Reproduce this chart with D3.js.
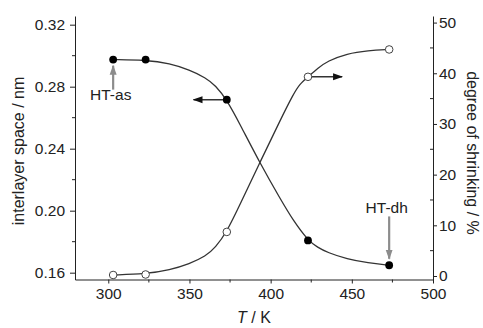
<!DOCTYPE html>
<html>
<head>
<meta charset="utf-8">
<script src="https://cdn.jsdelivr.net/npm/d3@7"></script>
<style>
  body { margin: 0; background: #fff; }
  svg { display: block; font-family: "Liberation Sans", Arial, Helvetica, sans-serif; }
  .axis path, .axis line { stroke: #222; stroke-width: 1; }
  .axis text { font-size: 15.5px; fill: #222; }
</style>
</head>
<body>
<svg id="chart" width="483" height="328"></svg>
<script>
// measured points
const temps = [303, 323, 373, 423, 473];
const spacing = [0.2975, 0.2975, 0.2716, 0.1808, 0.1648];   // nm, left axis (filled)
const shrink = [0.2, 0.3, 8.7, 39.3, 44.7];                  // %, right axis (open)

// fitted curves
const fitSpacingT = [303, 323, 338, 350, 360, 366, 373, 381, 393.5, 406, 414, 423, 429, 435, 447, 460, 473];
const fitSpacing = [0.2975, 0.2972, 0.2950, 0.2908, 0.2858, 0.2808, 0.2716, 0.2560, 0.2305, 0.2075, 0.1935, 0.1808, 0.1763, 0.1730, 0.1688, 0.1663, 0.1648];
const fitShrinkT = [303, 323, 338, 350, 360, 366, 373, 381, 393.5, 406, 414, 418, 423, 429, 435, 447, 460, 473];
const fitShrink = [0.2, 0.4, 1.2, 2.4, 3.9, 5.6, 8.7, 14.0, 22.5, 30.8, 35.9, 37.9, 39.3, 41.0, 42.4, 43.9, 44.5, 44.7];

// axis ticks
const xTicks = [300, 350, 400, 450, 500];
const xMinor = [325, 375, 425, 475];
const leftTicks = [0.16, 0.20, 0.24, 0.28, 0.32];
const leftMinor = [0.18, 0.22, 0.26, 0.30];
const rightTicks = [0, 10, 20, 30, 40, 50];
const rightMinor = [5, 15, 25, 35, 45];

const svg = d3.select("#chart");
const mLeft = 75, mRight = 433, mTop = 16, mBottom = 279.5;

const x = d3.scaleLinear().domain([279.5, 500]).range([mLeft, mRight]);
const yL = d3.scaleLinear().domain([0.1556, 0.3256]).range([mBottom, mTop]);
const yR = d3.scaleLinear().domain([-0.69, 51.3]).range([mBottom, mTop]);

// axes
const gx = svg.append("g").attr("class", "axis")
  .attr("transform", `translate(0,${mBottom})`)
  .call(d3.axisBottom(x).tickValues(xTicks).tickSize(4).tickPadding(4).tickSizeOuter(0));
gx.selectAll(".minor").data(xMinor).enter().append("line")
  .attr("x1", d => x(d)).attr("x2", d => x(d)).attr("y1", 0).attr("y2", 3)
  .attr("stroke", "#222");

const gl = svg.append("g").attr("class", "axis")
  .attr("transform", `translate(${mLeft},0)`)
  .call(d3.axisLeft(yL).tickValues(leftTicks).tickFormat(d3.format(".2f")).tickSize(5).tickPadding(5).tickSizeOuter(0));
gl.selectAll(".minor").data(leftMinor).enter().append("line")
  .attr("y1", d => yL(d)).attr("y2", d => yL(d)).attr("x1", 0).attr("x2", -3)
  .attr("stroke", "#222");

const gr = svg.append("g").attr("class", "axis")
  .attr("transform", `translate(${mRight},0)`)
  .call(d3.axisRight(yR).tickValues(rightTicks).tickSize(4).tickPadding(2).tickSizeOuter(0));
gr.selectAll(".minor").data(rightMinor).enter().append("line")
  .attr("y1", d => yR(d)).attr("y2", d => yR(d)).attr("x1", 0).attr("x2", -3)
  .attr("stroke", "#222");

// axis titles
svg.append("text")
  .attr("transform", `translate(24,151) rotate(-90)`)
  .attr("text-anchor", "middle")
  .style("font-size", "16px").attr("fill", "#222")
  .text("interlayer space / nm");

svg.append("text")
  .attr("transform", `translate(467,153) rotate(90)`)
  .attr("text-anchor", "middle")
  .style("font-size", "16px").attr("fill", "#222")
  .text("degree of shrinking / %");

const xt = svg.append("text")
  .attr("x", (mLeft + mRight) / 2).attr("y", 323)
  .attr("text-anchor", "middle")
  .style("font-size", "16px").attr("fill", "#222");
xt.append("tspan").style("font-style", "italic").text("T");
xt.append("tspan").text(" / K");

// fitted curves (smoothed through the read-off points)
const lineL = d3.line().x(d => x(d[0])).y(d => yL(d[1])).curve(d3.curveBasis);
const lineR = d3.line().x(d => x(d[0])).y(d => yR(d[1])).curve(d3.curveBasis);

svg.append("path")
  .attr("d", lineL(fitSpacingT.map((t, i) => [t, fitSpacing[i]])))
  .attr("fill", "none").attr("stroke", "#333").attr("stroke-width", 1.3);
svg.append("path")
  .attr("d", lineR(fitShrinkT.map((t, i) => [t, fitShrink[i]])))
  .attr("fill", "none").attr("stroke", "#333").attr("stroke-width", 1.3);

// arrow heads
const defs = svg.append("defs");
function marker(id, color) {
  defs.append("marker").attr("id", id)
    .attr("viewBox", "0 0 10 10").attr("refX", 9).attr("refY", 5)
    .attr("markerWidth", 10).attr("markerHeight", 10)
    .attr("markerUnits", "userSpaceOnUse")
    .attr("orient", "auto")
    .append("path").attr("d", "M0,1.5L10,5L0,8.5Z").attr("fill", color);
}
marker("headBlack", "#111");
marker("headGray", "#8c8c8c");

// axis-indicator arrows
svg.append("line")
  .attr("x1", x(373)).attr("y1", yL(0.2716))
  .attr("x2", x(352.5)).attr("y2", yL(0.2716))
  .attr("stroke", "#333").attr("stroke-width", 1.4)
  .attr("marker-end", "url(#headBlack)");
svg.append("line")
  .attr("x1", x(423)).attr("y1", yR(39.3))
  .attr("x2", x(444)).attr("y2", yR(39.3))
  .attr("stroke", "#333").attr("stroke-width", 1.4)
  .attr("marker-end", "url(#headBlack)");

// points
svg.selectAll(".open").data(temps).enter().append("circle")
  .attr("cx", d => x(d)).attr("cy", (d, i) => yR(shrink[i])).attr("r", 3.8)
  .attr("fill", "#fff").attr("stroke", "#444").attr("stroke-width", 1);
svg.selectAll(".filled").data(temps).enter().append("circle")
  .attr("cx", d => x(d)).attr("cy", (d, i) => yL(spacing[i])).attr("r", 3.9)
  .attr("fill", "#000");

// sample labels
svg.append("line")
  .attr("x1", x(303)).attr("y1", yL(0.2781))
  .attr("x2", x(303)).attr("y2", yL(0.2935))
  .attr("stroke", "#8c8c8c").attr("stroke-width", 2.2)
  .attr("marker-end", "url(#headGray)");
svg.append("text")
  .attr("x", x(301.5)).attr("y", yL(0.2713))
  .attr("text-anchor", "middle").style("font-size", "15.5px").attr("fill", "#222")
  .text("HT-as");

svg.append("line")
  .attr("x1", x(473)).attr("y1", yL(0.1963))
  .attr("x2", x(473)).attr("y2", yL(0.1690))
  .attr("stroke", "#8c8c8c").attr("stroke-width", 2.2)
  .attr("marker-end", "url(#headGray)");
svg.append("text")
  .attr("x", x(471.5)).attr("y", yL(0.1985))
  .attr("text-anchor", "middle").style("font-size", "15.5px").attr("fill", "#222")
  .text("HT-dh");
</script>
</body>
</html>
